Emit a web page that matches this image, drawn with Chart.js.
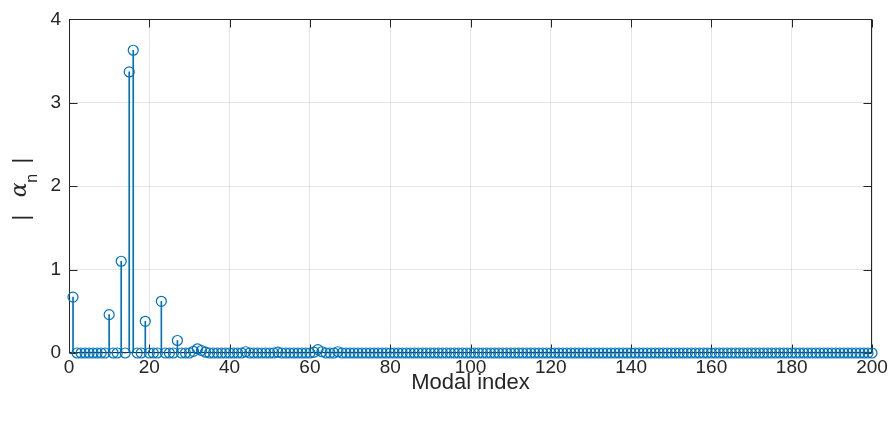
<!DOCTYPE html>
<html>
<head>
<meta charset="utf-8">
<script src="https://cdn.jsdelivr.net/npm/chart.js@4.4.1/dist/chart.umd.min.js"></script>
<style>
  html, body { margin: 0; padding: 0; background: #ffffff; }
  canvas { display: block; }
</style>
</head>
<body>
<canvas id="stem" width="891" height="421"></canvas>
<script>
// Modal indices n = 1..200
const modalIndex = Array.from({ length: 200 }, (_, i) => i + 1);

// |alpha_n| for each mode
const alphaMag = [
  0.67, 0, 0, 0, 0, 0, 0, 0, 0, 0.46,
  0, 0, 1.10, 0, 3.37, 3.63, 0, 0, 0.38, 0,
  0, 0, 0.62, 0, 0, 0, 0.15, 0, 0, 0,
  0.02, 0.05, 0.03, 0.01, 0, 0, 0, 0, 0, 0,
  0, 0, 0, 0.015, 0, 0, 0, 0, 0, 0,
  0, 0.01, 0, 0, 0, 0, 0, 0, 0, 0,
  0.01, 0.04, 0.015, 0, 0, 0, 0.015, 0, 0, 0,
  0, 0, 0, 0, 0, 0, 0, 0, 0, 0,
  0, 0, 0, 0, 0, 0, 0, 0, 0, 0,
  0, 0, 0, 0, 0, 0, 0, 0, 0, 0,
  0, 0, 0, 0, 0, 0, 0, 0, 0, 0,
  0, 0, 0, 0, 0, 0, 0, 0, 0, 0,
  0, 0, 0, 0, 0, 0, 0, 0, 0, 0,
  0, 0, 0, 0, 0, 0, 0, 0, 0, 0,
  0, 0, 0, 0, 0, 0, 0, 0, 0, 0,
  0, 0, 0, 0, 0, 0, 0, 0, 0, 0,
  0, 0, 0, 0, 0, 0, 0, 0, 0, 0,
  0, 0, 0, 0, 0, 0, 0, 0, 0, 0,
  0, 0, 0, 0, 0, 0, 0, 0, 0, 0,
  0, 0, 0, 0, 0, 0, 0, 0, 0, 0
];

// Axis tick values
const xTicks = [0, 20, 40, 60, 80, 100, 120, 140, 160, 180, 200];
const yTicks = [0, 1, 2, 3, 4];

const STEM_BLUE = '#0072BD';
const AXIS_DARK = '#262626';
const FONT = "'Liberation Sans', Arial, Helvetica, sans-serif";

const points = modalIndex.map((n, i) => ({ x: n, y: alphaMag[i] }));

// Axes box with inward tick marks on all four sides
const axesBox = {
  id: 'axesBox',
  beforeDatasetsDraw(chart) {
    const { ctx, chartArea: a, scales: { x, y } } = chart;
    const L = Math.round(a.left) + 0.5;
    const R = Math.round(a.right) - 0.5;
    const T = Math.round(a.top) + 0.5;
    const B = Math.round(a.bottom) - 0.5;
    const len = 8;
    ctx.save();
    ctx.strokeStyle = AXIS_DARK;
    ctx.lineWidth = 1;
    ctx.strokeRect(L, T, R - L, B - T);
    ctx.beginPath();
    xTicks.forEach(v => {
      const px = Math.round(x.getPixelForValue(v)) + 0.5;
      ctx.moveTo(px, B); ctx.lineTo(px, B - len);
      ctx.moveTo(px, T); ctx.lineTo(px, T + len);
    });
    yTicks.forEach(v => {
      const py = Math.round(y.getPixelForValue(v)) + 0.5;
      ctx.moveTo(L, py); ctx.lineTo(L + len, py);
      ctx.moveTo(R, py); ctx.lineTo(R - len, py);
    });
    ctx.stroke();
    ctx.restore();
  }
};

// Rotated y-axis label: | alpha_n |
const yLabel = {
  id: 'yLabel',
  afterDraw(chart) {
    const { ctx, chartArea: a } = chart;
    const cy = (a.top + a.bottom) / 2;
    ctx.save();
    ctx.translate(0, cy);
    ctx.rotate(-Math.PI / 2);
    ctx.fillStyle = AXIS_DARK;
    ctx.textAlign = 'center';
    ctx.textBaseline = 'alphabetic';
    // along the rotated baseline, positive u is upward on screen
    ctx.font = `22px ${FONT}`;
    ctx.fillText('|', -31.5, 28);
    ctx.fillText('|', 25.5, 28);
    ctx.font = `italic 22px 'DejaVu Serif', 'Liberation Serif', serif`;
    ctx.fillText('\u03B1', -3.5, 26);
    ctx.font = `16px ${FONT}`;
    ctx.fillText('n', 8, 37);
    ctx.restore();
  }
};

new Chart(document.getElementById('stem'), {
  type: 'scatter',
  data: {
    datasets: [
      {
        type: 'bar',
        data: points,
        backgroundColor: STEM_BLUE,
        borderWidth: 0,
        barThickness: 1,
        clip: false,
        order: 2
      },
      {
        type: 'scatter',
        data: points,
        showLine: false,
        pointStyle: 'circle',
        pointRadius: 5,
        pointHoverRadius: 5,
        pointBorderWidth: 1.2,
        pointBorderColor: STEM_BLUE,
        pointBackgroundColor: 'rgba(0,0,0,0)',
        clip: false,
        order: 1
      }
    ]
  },
  options: {
    responsive: false,
    animation: false,
    devicePixelRatio: 1,
    layout: { padding: { top: 10, right: 19, bottom: 0, left: 0 } },
    plugins: {
      legend: { display: false },
      tooltip: { enabled: false }
    },
    scales: {
      x: {
        type: 'linear',
        min: 0,
        max: 200,
        offset: false,
        afterBuildTicks(scale) { scale.ticks = xTicks.map(v => ({ value: v })); },
        afterFit(scale) { scale.height = 68; },
        grid: { color: 'rgba(38,38,38,0.12)', drawTicks: false, offset: false },
        border: { display: false },
        ticks: {
          color: AXIS_DARK,
          font: { family: FONT, size: 19 },
          padding: 3,
          maxRotation: 0
        },
        title: {
          display: true,
          text: 'Modal index',
          color: AXIS_DARK,
          font: { family: FONT, size: 22 },
          padding: { top: 0, bottom: 25 }
        }
      },
      y: {
        type: 'linear',
        min: 0,
        max: 4,
        afterBuildTicks(scale) { scale.ticks = yTicks.map(v => ({ value: v })); },
        afterFit(scale) { scale.width = 69; },
        grid: { color: 'rgba(38,38,38,0.12)', drawTicks: false },
        border: { display: false },
        ticks: {
          color: AXIS_DARK,
          font: { family: FONT, size: 19 },
          padding: 8
        }
      }
    }
  },
  plugins: [axesBox, yLabel]
});
</script>
</body>
</html>
